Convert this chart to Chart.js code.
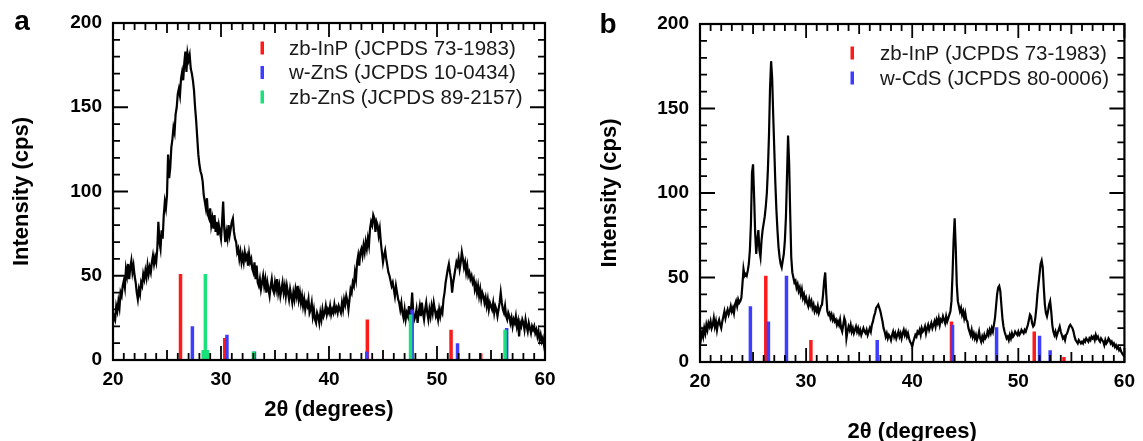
<!DOCTYPE html>
<html>
<head>
<meta charset="utf-8">
<script src="https://cdn.jsdelivr.net/npm/chart.js@4.4.0/dist/chart.umd.min.js"></script>
<style>
    html, body { margin: 0; padding: 0; background: #fff; overflow: hidden; }
    #xrd-a { position: absolute; left: 0; top: 0; }
    #xrd-b { position: absolute; left: 575px; top: 0; }
</style>
</head>
<body>
<canvas id="xrd-a" width="575" height="441"></canvas>
<canvas id="xrd-b" width="568" height="460"></canvas>
<script>
// scan: 20-60 deg, 0.1 deg step
var scanStart = 20;
var scanStep = 0.1;

var intensityA = [
    22, 26, 24, 32, 29, 35, 31, 40, 38, 44,
    47, 43, 54, 50, 57, 48, 55, 59, 52, 56,
    50, 46, 40, 36, 42, 39, 46, 44, 51, 48,
    53, 49, 56, 51, 55, 52, 58, 62, 57, 61,
    58, 66, 82, 70, 66, 77, 72, 86, 94, 90,
    98, 122, 108, 114, 126, 131, 138, 135, 146, 150,
    158, 161, 157, 167, 171, 166, 176, 183, 171, 182,
    178, 181, 173, 170, 166, 160, 150, 142, 132, 122,
    116, 112, 110, 106, 98, 94, 90, 96, 86, 84,
    90, 80, 84, 78, 86, 76, 82, 74, 80, 76,
    72, 82, 94, 78, 70, 76, 72, 80, 74, 78,
    82, 84, 76, 72, 70, 64, 66, 60, 64, 58,
    62, 58, 64, 60, 62, 56, 63, 58, 60, 54,
    52, 58, 48, 56, 46, 44, 48, 42, 46, 50,
    44, 48, 40, 46, 42, 38, 44, 48, 42, 40,
    46, 42, 48, 40, 44, 38, 42, 46, 40, 44,
    38, 44, 40, 36, 42, 38, 34, 40, 36, 42,
    38, 44, 36, 40, 34, 38, 32, 36, 30, 34,
    32, 36, 28, 30, 34, 26, 30, 24, 22, 28,
    26, 22, 28, 24, 30, 26, 28, 32, 27, 30,
    28, 32, 27, 30, 28, 33, 29, 31, 28, 32,
    30, 28, 34, 30, 36, 33, 38, 35, 30, 36,
    42, 40, 46, 44, 52, 48, 58, 62, 56, 64,
    66, 62, 68, 64, 70, 66, 72, 68, 78, 82,
    80, 86, 84, 76, 82, 80, 74, 78, 70, 64,
    58, 62, 65, 60, 56, 52, 50, 47, 44, 46,
    42, 38, 44, 40, 36, 34, 30, 34, 28, 25,
    30, 24, 28, 26, 32, 22, 30, 40, 28, 24,
    26, 30, 22, 28, 32, 26, 34, 28, 24, 30,
    34, 28, 24, 30, 26, 32, 28, 34, 30, 26,
    28, 24, 30, 26, 30, 28, 36, 40, 46, 50,
    54, 57, 52, 48, 40, 46, 50, 54, 58, 56,
    60, 54, 58, 64, 60, 55, 58, 52, 56, 50,
    52, 48, 50, 46, 48, 42, 45, 40, 44, 38,
    42, 36, 40, 38, 34, 37, 32, 36, 30, 34,
    32, 30, 34, 28, 32, 30, 26, 30, 34, 40,
    34, 30, 28, 32, 26, 24, 28, 26, 22, 25,
    20, 24, 22, 26, 20, 23, 14, 22, 20, 24,
    22, 18, 24, 20, 17, 22, 19, 16, 20, 18,
    20, 16, 18, 14, 17, 12, 15, 11, 13, 9,
    5
];

var intensityB = [
    10, 14, 18, 15, 20, 17, 22, 19, 23, 21,
    24, 20, 22, 26, 21, 24, 19, 23, 25, 22,
    20, 24, 27, 30, 26, 29, 31, 28, 30, 33,
    30, 32, 29, 34, 36, 33, 37, 35, 36, 38,
    46, 55, 51, 52, 51, 54, 58, 66, 82, 112,
    117, 98, 76, 64, 72, 78, 66, 62, 72, 78,
    82, 86, 92, 100, 114, 134, 162, 178, 168, 146,
    126, 106, 90, 78, 68, 62, 58, 56, 60, 64,
    72, 86, 110, 134, 118, 88, 62, 53, 50, 47,
    48, 44, 46, 42, 44, 40, 43, 38, 40, 36,
    38, 35, 33, 37, 34, 36, 32, 34, 30, 32,
    30, 33, 29, 31, 33, 34, 40, 48, 53, 40,
    30, 28, 29, 26, 28, 25, 27, 24, 25, 22,
    24, 22, 25, 20, 18, 22, 26, 24, 14, 18,
    21, 19, 22, 18, 20, 17, 19, 21, 18, 20,
    17, 19, 16, 18, 20, 18, 17, 19, 16, 18,
    20, 18, 22, 24, 27, 29, 32, 33, 34, 32,
    30, 27, 24, 20, 18, 15, 17, 14, 16, 15,
    13, 16, 18, 15, 17, 14, 16, 18, 15, 17,
    14, 17, 19, 16, 18, 15, 17, 14, 12, 11,
    9, 12, 14, 16, 15, 18, 17, 19, 16, 20,
    18, 19, 21, 17, 20, 22, 19, 21, 23, 20,
    22, 24, 21, 25, 23, 26, 22, 25, 24, 27,
    25, 23, 27, 24, 26, 28, 30, 36, 52, 72,
    85, 68, 46, 36, 33, 30, 32, 28, 30, 26,
    29, 25, 24, 20, 18, 16, 19, 15, 17, 14,
    16, 13, 15, 18, 14, 12, 15, 13, 16, 14,
    15, 18, 16, 19, 17, 20, 18, 22, 26, 33,
    40, 44, 45, 42, 34, 26, 21, 18, 16, 14,
    15, 13, 16, 14, 17, 15, 16, 18, 17, 16,
    18, 16, 17, 19, 18, 17, 19, 18, 20, 22,
    25, 28, 27, 23, 21, 22, 26, 32, 40, 46,
    52, 58, 60, 56, 44, 34, 29, 27, 30, 34,
    36, 30, 22, 18, 16, 18, 15, 17, 19, 21,
    18, 16, 14, 15, 13, 16, 17, 19, 21, 22,
    21, 20, 18, 15, 13, 12, 11, 13, 12, 11,
    12, 11, 13, 12, 14, 13, 12, 14, 13, 15,
    14, 15, 13, 16, 14, 15, 13, 12, 14, 13,
    12, 10, 13, 11, 12, 14, 13, 11, 12, 10,
    11, 9, 10, 8, 9, 7, 8, 6, 5, 4,
    3
];

// reference patterns (position, relative intensity)
var inpPosA = [26.25, 30.35, 43.55, 51.3, 54.05];
var inpHtA = [51, 13, 24, 18, 4];
var wznsPosA = [27.35, 30.55, 33.1, 43.5, 47.7, 51.9, 56.45];
var wznsHtA = [20, 15, 5, 5, 30, 10, 19];
var zbznsPosA = [28.35, 28.55, 28.75, 33.0, 47.55, 56.3];
var zbznsHtA = [6, 51, 6, 5, 27, 18];

var inpPosB = [26.2, 30.45, 43.7, 51.5, 54.3];
var inpHtB = [51, 13, 24, 18, 3];
var cdsPosB = [24.75, 26.45, 28.15, 36.7, 43.8, 47.95, 52.0, 53.0];
var cdsHtB = [33, 24, 51, 13, 22, 20.5, 15.5, 7];

var xTicks = [20, 30, 40, 50, 60];
var yTicks = [0, 50, 100, 150, 200];

var RED = '#ff1a1a', BLUE = '#3d3dff', GREEN = '#19e27a';
var FONT = "'Liberation Sans', Arial, sans-serif";

function scanPoints(values) {
    return values.map(function (v, i) {
        return { x: +(scanStart + i * scanStep).toFixed(1), y: v };
    });
}

// each stick = 0 -> height, then a gap
function sticks(pos, ht) {
    var pts = [];
    for (var i = 0; i < pos.length; i++) {
        pts.push({ x: pos[i], y: 0 }, { x: pos[i], y: ht[i] }, { x: pos[i], y: null });
    }
    return pts;
}

function stickSet(label, pos, ht, color, order) {
    return {
        label: label,
        data: sticks(pos, ht),
        borderColor: color,
        borderWidth: 3.5,
        borderCapStyle: 'butt',
        pointRadius: 0,
        spanGaps: false,
        order: order
    };
}

var frameTicks = {
    id: 'frameTicks',
    afterDatasetsDraw: function (chart) {
        var ctx = chart.ctx, a = chart.chartArea;
        var x = chart.scales.x, y = chart.scales.y;
        ctx.save();
        ctx.strokeStyle = '#000';
        ctx.lineWidth = 1.8;
        ctx.beginPath();
        for (var v = x.min; v <= x.max; v += 1) {
            var px = x.getPixelForValue(v);
            var len = v % 10 === 0 ? 14 : (v % 5 === 0 ? 10 : 7);
            ctx.moveTo(px, a.bottom); ctx.lineTo(px, a.bottom - len);
            ctx.moveTo(px, a.top); ctx.lineTo(px, a.top + len);
        }
        for (var w = y.min; w <= y.max; w += 10) {
            var py = y.getPixelForValue(w);
            var l2 = w % 50 === 0 ? 15 : 7;
            ctx.moveTo(a.left, py); ctx.lineTo(a.left + l2, py);
            ctx.moveTo(a.right, py); ctx.lineTo(a.right - l2, py);
        }
        ctx.stroke();
        ctx.lineWidth = 2.2;
        ctx.strokeRect(a.left, a.top, a.right - a.left, a.bottom - a.top);
        ctx.restore();
    }
};

var panelLegend = {
    id: 'panelLegend',
    afterDraw: function (chart, args, opts) {
        var ctx = chart.ctx, a = chart.chartArea;
        ctx.save();
        ctx.font = 'bold 28px ' + FONT;
        ctx.fillStyle = '#000';
        ctx.textAlign = 'center';
        ctx.textBaseline = 'middle';
        ctx.fillText(opts.letter, opts.letterX, opts.letterY);
        ctx.font = '20.5px ' + FONT;
        ctx.textAlign = 'left';
        opts.items.forEach(function (it, i) {
            var cy = a.top + opts.top + i * opts.gap;
            ctx.fillStyle = it.color;
            ctx.fillRect(a.left + opts.markX - 1.5, cy - 6.5, 3.5, 13);
            ctx.fillStyle = '#1a1a1a';
            ctx.fillText(it.text, a.left + opts.textX, cy + 1);
        });
        ctx.restore();
    }
};

function makeConfig(curve, stickSets, geo, legendOpts) {
    return {
        type: 'line',
        data: {
            datasets: [{
                label: 'scan',
                data: scanPoints(curve),
                borderColor: '#000',
                borderWidth: 2.2,
                pointRadius: 0,
                tension: 0,
                order: 10
            }].concat(stickSets)
        },
        options: {
            responsive: false,
            animation: false,
            layout: { padding: { left: 0, top: geo.top, right: geo.right, bottom: 0 } },
            plugins: {
                legend: { display: false },
                tooltip: { enabled: false },
                panelLegend: legendOpts
            },
            scales: {
                x: {
                    type: 'linear', min: 20, max: 60,
                    afterBuildTicks: function (s) { s.ticks = xTicks.map(function (v) { return { value: v }; }); },
                    afterFit: function (s) { s.height = geo.xHeight; },
                    ticks: { color: '#000', padding: 8, maxRotation: 0, font: { family: FONT, size: 19, weight: 'bold' } },
                    grid: { drawOnChartArea: false, drawTicks: false },
                    border: { display: false },
                    title: { display: true, text: '2θ (degrees)', color: '#000',
                        font: { family: FONT, size: 22, weight: 'bold' }, padding: { top: 0, bottom: geo.xTitlePad } }
                },
                y: {
                    min: 0, max: 200,
                    afterBuildTicks: function (s) { s.ticks = yTicks.map(function (v) { return { value: v }; }); },
                    afterFit: function (s) { s.width = geo.yWidth; },
                    ticks: { color: '#000', padding: 11, font: { family: FONT, size: 19, weight: 'bold' } },
                    grid: { drawOnChartArea: false, drawTicks: false },
                    border: { display: false },
                    title: { display: true, text: 'Intensity (cps)', color: '#000',
                        font: { family: FONT, size: 22, weight: 'bold' }, padding: { top: geo.yTitlePad, bottom: 0 } }
                }
            }
        },
        plugins: [frameTicks, panelLegend]
    };
}

new Chart(document.getElementById('xrd-a'), makeConfig(
    intensityA,
    [
        stickSet('zb-InP (JCPDS 73-1983)', inpPosA, inpHtA, RED, 3),
        stickSet('w-ZnS (JCPDS 10-0434)', wznsPosA, wznsHtA, BLUE, 2),
        stickSet('zb-ZnS (JCPDS 89-2157)', zbznsPosA, zbznsHtA, GREEN, 1)
    ],
    { top: 23, right: 30, xHeight: 81, yWidth: 113, xTitlePad: 18, yTitlePad: 9 },
    {
        letter: 'a', letterX: 22, letterY: 22, top: 25, gap: 24.5, markX: 149, textX: 176,
        items: [
            { text: 'zb-InP (JCPDS 73-1983)', color: RED },
            { text: 'w-ZnS (JCPDS 10-0434)', color: BLUE },
            { text: 'zb-ZnS (JCPDS 89-2157)', color: GREEN }
        ]
    }
));

new Chart(document.getElementById('xrd-b'), makeConfig(
    intensityB,
    [
        stickSet('zb-InP (JCPDS 73-1983)', inpPosB, inpHtB, RED, 2),
        stickSet('w-CdS (JCPDS 80-0006)', cdsPosB, cdsHtB, BLUE, 1)
    ],
    { top: 24, right: 15, xHeight: 98, yWidth: 125, xTitlePad: 15, yTitlePad: 22 },
    {
        letter: 'b', letterX: 33, letterY: 25, top: 29, gap: 25, markX: 152, textX: 180,
        items: [
            { text: 'zb-InP (JCPDS 73-1983)', color: RED },
            { text: 'w-CdS (JCPDS 80-0006)', color: BLUE }
        ]
    }
));
</script>
</body>
</html>
